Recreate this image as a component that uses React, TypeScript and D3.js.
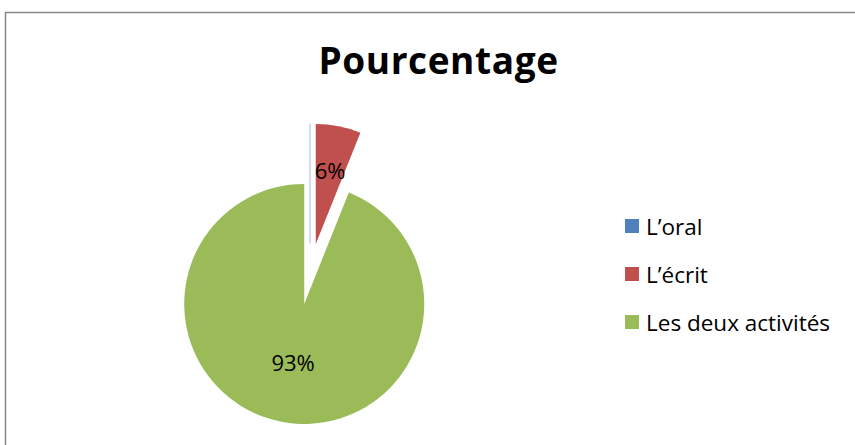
import React from "react";
import * as d3 from "d3";

const categories = ["L’oral", "L’écrit", "Les deux activités"];
const values = [0, 6, 93];
const labels = ["", "6%", "93%"];
const colors = ["#4F81BD", "#C0504D", "#9BBB59"];
const title = "Pourcentage";

const W = 855;
const H = 445;

export default function App() {
  const cx = 310;
  const cy = 274;
  const r = 120;
  const explode = 30.5;
  const pie = d3.pie<number>().value((d) => d).sort(null);
  const arcs = pie(values);
  const arcGen = d3.arc<d3.PieArcDatum<number>>().innerRadius(0).outerRadius(r);
  const labelR = [0, 0.63 * r, 0.49 * r];

  const legendY = d3.scalePoint<string>().domain(categories).range([226, 322]);

  return (
    <svg
      width={W}
      height={H}
      style={{ position: "absolute", left: 0, top: 0, background: "#fff" }}
    >
      <rect x={0} y={0} width={W} height={H} fill="#fff" />
      <path d={`M5.5,${H} V12.5 H${W}`} fill="none" stroke="#868686" strokeWidth={1.5} />
      <text
        x={438.5}
        y={74}
        textAnchor="middle"
        fontFamily="'Open Sans', sans-serif"
        fontWeight="bold"
        fontSize={37}
        letterSpacing={0.6}
        fill="#000"
      >
        {title}
      </text>
      <g transform={`translate(${cx},${cy})`}>
        {arcs.map((a, i) => {
          const mid = (a.startAngle + a.endAngle) / 2;
          const dx = explode * Math.sin(mid);
          const dy = -explode * Math.cos(mid);
          if (a.endAngle - a.startAngle < 1e-6) {
            return (
              <line
                key={i}
                x1={dx}
                y1={dy}
                x2={dx + r * Math.sin(mid)}
                y2={dy - r * Math.cos(mid)}
                stroke="#b7c7df"
                strokeWidth={1.2}
              />
            );
          }
          return (
            <g key={i} transform={`translate(${dx},${dy})`}>
              <path d={arcGen(a) || ""} fill={colors[i]} />
            </g>
          );
        })}
        {arcs.map((a, i) => {
          if (!labels[i]) return null;
          const mid = (a.startAngle + a.endAngle) / 2;
          const dx = explode * Math.sin(mid);
          const dy = -explode * Math.cos(mid);
          const lx = dx + labelR[i] * Math.sin(mid);
          const ly = dy - labelR[i] * Math.cos(mid);
          return (
            <text
              key={`l${i}`}
              x={lx}
              y={ly}
              textAnchor="middle"
              dominantBaseline="central"
              fontFamily="'Open Sans', sans-serif"
              fontSize={22}
              fill="#000"
            >
              {labels[i]}
            </text>
          );
        })}
      </g>
      <g>
        {categories.map((c, i) => (
          <g key={c} transform={`translate(625,${legendY(c)})`}>
            <rect x={0} y={-7} width={14} height={14} fill={colors[i]} />
            <text
              x={21}
              y={0}
              dominantBaseline="central"
              fontFamily="'Open Sans', sans-serif"
              fontSize={22.5}
              fill="#000"
            >
              {c}
            </text>
          </g>
        ))}
      </g>
    </svg>
  );
}
